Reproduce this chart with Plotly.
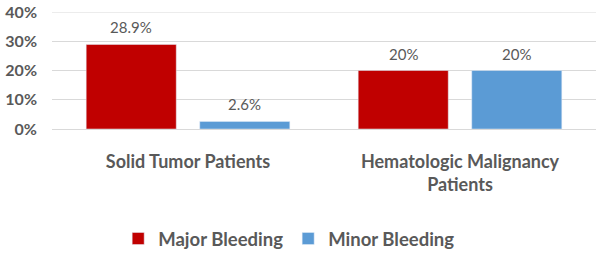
import plotly.graph_objects as go

categories = ["Solid Tumor Patients", "Hematologic Malignancy<br>Patients"]
major_bleeding = [28.9, 20]
minor_bleeding = [2.6, 20]
major_labels = ["28.9%", "20%"]
minor_labels = ["2.6%", "20%"]
y_ticks = [0, 10, 20, 30, 40]
y_tick_labels = ["0%", "10%", "20%", "30%", "40%"]

grey = "#595959"
gridc = "#d9d9d9"
bargap = 0.165
fig = go.Figure()
fig.add_trace(go.Bar(name="Major Bleeding", x=categories, y=major_bleeding,
                     marker_color="#c00000"))
fig.add_trace(go.Bar(name="Minor Bleeding", x=categories, y=minor_bleeding,
                     marker_color="#5b9bd5"))

slot = (1 - bargap) / 2
for series, labels, off in [(major_bleeding, major_labels, -slot / 2),
                            (minor_bleeding, minor_labels, slot / 2)]:
    for i, (v, t) in enumerate(zip(series, labels)):
        fig.add_annotation(x=i + off, y=v, text=t, showarrow=False,
                           yanchor="bottom", yshift=6,
                           font=dict(size=15, color=grey, family="Lato"))

# top gridline (plotly clips gridlines at the very edge of the axis range)
fig.add_shape(type="line", xref="paper", x0=0, x1=1, yref="y", y0=y_ticks[-1], y1=y_ticks[-1],
              line=dict(color=gridc, width=1), layer="below")

fig.update_layout(
    width=600, height=253,
    margin=dict(l=52, r=4, t=12, b=124, autoexpand=False),
    plot_bgcolor="white", paper_bgcolor="white",
    barmode="group", bargap=bargap, bargroupgap=0.207,
    font=dict(family="Lato", color=grey, size=16),
    showlegend=True,
    legend=dict(orientation="h", x=0.436, xanchor="center", y=-0.94, yanchor="middle",
                font=dict(size=18.5, color=grey, family="Lato", weight="bold"),
                itemwidth=30, tracegroupgap=0),
    xaxis=dict(showline=False, ticks="", automargin=False, ticklabelstandoff=20,
               tickfont=dict(size=18, color=grey, weight="bold")),
    yaxis=dict(range=[0, 40], tickvals=y_ticks, ticktext=y_tick_labels, automargin=False,
               showgrid=True, gridcolor=gridc, gridwidth=1, zeroline=True,
               zerolinecolor=gridc, zerolinewidth=1, showline=False, ticks="",
               ticklen=0, ticklabelstandoff=14,
               tickfont=dict(size=16, color=grey, weight="bold")),
)
fig.write_html("out.html", config={"displayModeBar": False},
               post_script="document.body.style.margin='0';document.body.style.overflow='hidden';")
